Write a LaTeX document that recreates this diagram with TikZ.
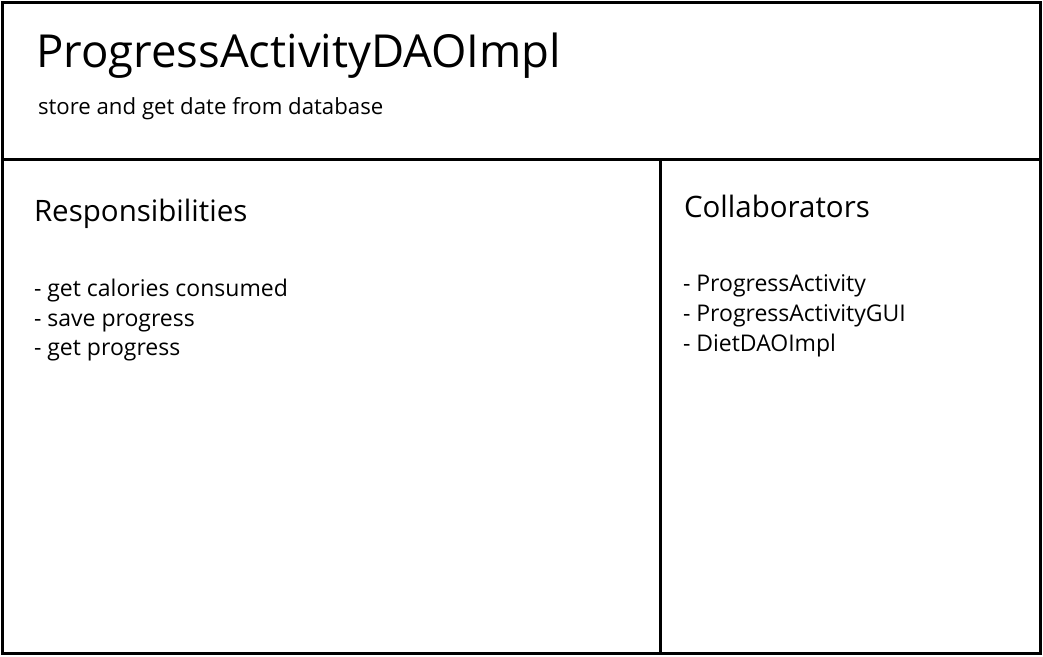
\documentclass[tikz,border=0pt]{standalone}
\usepackage{fontspec}
\setmainfont{Open Sans}
\begin{document}
\begin{tikzpicture}[x=1pt,y=-1pt,
  frame/.style={line width=3pt,draw=black},
  txt/.style={anchor=base west,inner sep=0pt,outer sep=0pt},
  ttl/.style={txt,font=\fontsize{45.5}{50}\selectfont},
  sub/.style={txt,font=\fontsize{22.2}{26}\selectfont},
  hd/.style={txt,font=\fontsize{29.5}{34}\selectfont},
  itm/.style={txt,font=\fontsize{23}{30}\selectfont,align=left}]
\useasboundingbox (0,0) rectangle (1043,656);
\fill[white] (0,0) rectangle (1043,656);
\coordinate (tl) at (2.5,2.5);
\coordinate (br) at (1040.5,653.5);
\draw[frame] (tl) rectangle (br);
\coordinate (hl) at (2.5,159.5);
\coordinate (hr) at (1040.5,159.5);
\draw[frame] (hl) -- (hr);
\coordinate (vt) at (660.5,159.5);
\coordinate (vb) at (660.5,653.5);
\draw[frame] (vt) -- (vb);
\node[ttl] (title) at (36,67) {ProgressActivityDAOImpl};
\node[sub] (subtitle) at (38,114) {store and get date from database};
\node[hd] (resp) at (34,221) {Responsibilities};
\node[itm] (r1) at (34,296) {- get calories consumed};
\node[itm] (r2) at (34,326) {- save progress};
\node[itm] (r3) at (34,355) {- get progress};
\node[hd] (coll) at (684,217) {Collaborators};
\node[itm] (c1) at (683,291) {- ProgressActivity};
\node[itm] (c2) at (683,321) {- ProgressActivityGUI};
\node[itm] (c3) at (683,351) {- DietDAOImpl};
\end{tikzpicture}
\end{document}
